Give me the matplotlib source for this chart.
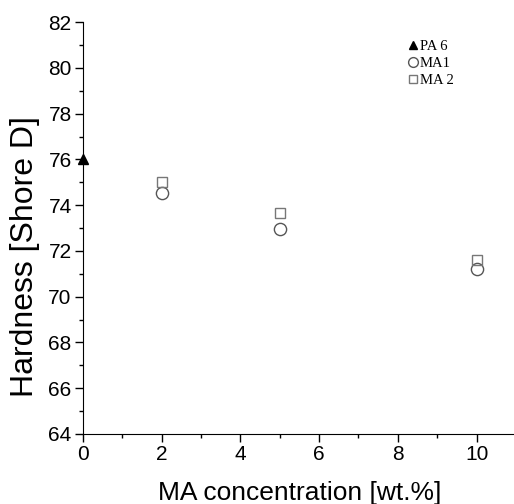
import matplotlib
matplotlib.use('Agg')
import matplotlib.pyplot as plt
from matplotlib.ticker import MultipleLocator

# hardness vs MA content
pa6_x = [0]
pa6_y = [76.0]
ma1_x = [2, 5, 10]
ma1_y = [74.55, 72.95, 71.2]
ma2_x = [2, 5, 10]
ma2_y = [75.0, 73.65, 71.6]

plt.rcParams['font.family'] = ['Liberation Sans', 'DejaVu Sans']

fig = plt.figure(figsize=(5.14, 5.04), dpi=100)
ax = fig.add_axes([0.161, 0.139, 0.839, 0.817])

ax.plot(pa6_x, pa6_y, ls='none', marker='^', ms=6.5, color='black', label='PA 6', clip_on=False)
ax.plot(ma1_x, ma1_y, ls='none', marker='o', ms=8.8, mfc='none', mec='#555555', mew=1.0, label='MA1')
ax.plot(ma2_x, ma2_y, ls='none', marker='s', ms=7.2, mfc='none', mec='#777777', mew=1.0, label='MA 2')

ax.set_xlim(0, 10.95)
ax.set_ylim(64, 82)
ax.xaxis.set_major_locator(MultipleLocator(2))
ax.xaxis.set_minor_locator(MultipleLocator(1))
ax.yaxis.set_major_locator(MultipleLocator(2))
ax.yaxis.set_minor_locator(MultipleLocator(1))

for side in ['top', 'right']:
    ax.spines[side].set_visible(False)
ax.tick_params(axis='both', which='major', direction='out', length=6, width=1, labelsize=15, pad=2)
ax.tick_params(axis='both', which='minor', direction='out', length=3, width=1)

fig.text(0.584, 0.008, 'MA concentration [wt.%]', fontsize=19, ha='center', va='baseline')
fig.text(0.049, 1 - 256.5 / 504, 'Hardness [Shore D]', fontsize=23, rotation=90,
         ha='center', va='center')

ax.legend(loc='upper left', bbox_to_anchor=(409 / 514, 1 - 40 / 504),
          bbox_transform=fig.transFigure, frameon=False,
          prop={'family': 'Liberation Serif', 'size': 10.5},
          handlelength=0.6, handletextpad=0.15, labelspacing=0.25, markerscale=0.8,
          borderpad=0, borderaxespad=0)

fig.savefig('out.png', dpi=100)
